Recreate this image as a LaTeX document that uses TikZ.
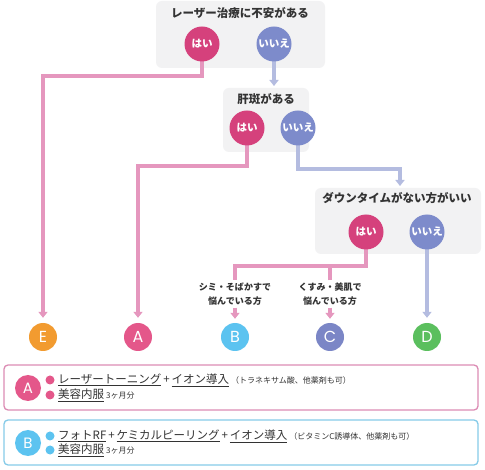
\documentclass[tikz,border=0pt]{standalone}
\usepackage{fontspec}
\setmainfont{Noto Sans CJK JP}
\newfontfamily\latinfont{Poppins}
\usetikzlibrary{arrows.meta}
\definecolor{yescol}{HTML}{D5417C}
\definecolor{nocol}{HTML}{7D8BCB}
\definecolor{pinkln}{HTML}{E597BE}
\definecolor{blueln}{HTML}{B4BCE0}
\definecolor{boxgray}{HTML}{F2F2F3}
\definecolor{txt}{HTML}{333333}
\definecolor{colE}{HTML}{F29B30}
\definecolor{colA}{HTML}{E4578A}
\definecolor{colB}{HTML}{5CC3F0}
\definecolor{colC}{HTML}{7B86C6}
\definecolor{colD}{HTML}{5BBF5E}
\definecolor{borderA}{HTML}{DC8CB4}
\definecolor{borderB}{HTML}{86CBE8}
\tikzset{
  qbox/.style={fill=boxgray, rounded corners=6pt, draw=none},
  qtitle/.style={text=txt, font=\bfseries\fontsize{11.5}{13}\selectfont, inner sep=0pt},
  yesc/.style={circle, fill=yescol, minimum size=35pt, inner sep=0pt, text=white, font=\bfseries\fontsize{10.5}{12}\selectfont},
  noc/.style={circle, fill=nocol, minimum size=35pt, inner sep=0pt, text=white, font=\bfseries\fontsize{10.5}{12}\selectfont},
  endc/.style={circle, minimum size=28pt, inner sep=0pt, text=white, font=\latinfont\fontsize{16}{18}\selectfont},
  pl/.style={draw=pinkln, line width=3.5pt},
  bl/.style={draw=blueln, line width=3.5pt},
  arr/.style={-{Triangle[width=9pt,length=6pt]}},
  lbl/.style={text=txt, font=\bfseries\fontsize{9}{14}\selectfont, align=center, inner sep=0pt},
  resbox/.style={rounded corners=4pt, line width=1.3pt, fill=white},
  bullet/.style={circle, minimum size=9pt, inner sep=0pt},
  rtext/.style={anchor=west, inner sep=0pt, text=txt, font=\fontsize{11.5}{13}\selectfont},
}
\begin{document}
\begin{tikzpicture}[x=1pt,y=-1pt]
\useasboundingbox[fill=white] (0,0) rectangle (485,470);
% question boxes
\fill[qbox] (156,1) rectangle (325,68);
\fill[qbox] (223,88) rectangle (309,152);
\fill[qbox] (315,188) rectangle (481,254);
\node[qtitle] (t1) at (240,13) {レーザー治療に不安がある};
\node[qtitle] (t2) at (266,99) {肝斑がある};
\node[qtitle] (t3) at (397,198) {ダウンタイムがない方がいい};
% end circles
\node[endc, fill=colE] (E) at (43,337) {E};
\node[endc, fill=colA] (A) at (138,337) {A};
\node[endc, fill=colB] (B) at (235,337) {B};
\node[endc, fill=colC] (C) at (330,337) {C};
\node[endc, fill=colD] (D) at (427,337) {D};
% labels
\node[lbl] (lb) at (235,294) {シミ・そばかすで\\悩んでいる方};
\node[lbl] (lc) at (330,294) {くすみ・美肌で\\悩んでいる方};
% coordinates
\coordinate (box2top) at (274,86);
\coordinate (box3top) at (400,186);
\coordinate (j1) at (0,76);
\coordinate (j2) at (0,166);
\coordinate (j3) at (0,169);
\coordinate (j4) at (0,266);
\coordinate (y1) at (202,44);
\coordinate (n1) at (274,44);
\coordinate (y2) at (247,128);
\coordinate (n2) at (298,128);
\coordinate (y3) at (366,232);
\coordinate (n3) at (427,232);
% connectors (behind circles)
\draw[pl, arr, shorten >=5pt] (y1) -- (y1 |- j1) -| (E.north);
\draw[bl, arr] (n1) -- (box2top);
\draw[pl, arr, shorten >=5pt] (y2) -- (y2 |- j2) -| (A.north);
\draw[bl, arr] (n2) -- (n2 |- j3) -| (box3top);
\draw[pl] (y3) -- (y3 |- j4) -| ([yshift=2pt]lb.north);
\draw[pl] ([yshift=2pt]lc.north) -- (lc.north |- j4);
\draw[bl, arr, shorten >=5pt] (n3) -- (D.north);
\draw[pl, arr, shorten >=4pt] ([yshift=-2pt]lb.south) -- (B.north);
\draw[pl, arr, shorten >=4pt] ([yshift=-2pt]lc.south) -- (C.north);
% answer circles
\node[yesc] (yes1) at (y1) {はい};
\node[noc] (no1) at (n1) {いいえ};
\node[yesc] (yes2) at (y2) {はい};
\node[noc] (no2) at (n2) {いいえ};
\node[yesc] (yes3) at (y3) {はい};
\node[noc] (no3) at (n3) {いいえ};
% result boxes
\draw[resbox, draw=borderA] (4,365) rectangle (478,410);
\node[endc, fill=colA, minimum size=26pt, font=\latinfont\fontsize{15}{17}\selectfont] (rA) at (28,388) {A};
\node[bullet, fill=colA] (bA1) at (50,380) {};
\node[bullet, fill=colA] (bA2) at (50,395) {};
\node[rtext] (tA1) at (58,380) {\underline{レーザートーニング}\,+\,\underline{イオン導入}\,{\fontsize{8}{10}\selectfont（トラネキサム酸、他薬剤も可）}};
\node[rtext] (tA2) at (58,395) {\underline{美容内服}\,{\fontsize{8}{10}\selectfont 3ヶ月分}};
\draw[resbox, draw=borderB] (4,420) rectangle (478,465);
\node[endc, fill=colB, minimum size=26pt, font=\latinfont\fontsize{15}{17}\selectfont] (rB) at (28,443) {B};
\node[bullet, fill=colB] (bB1) at (50,436) {};
\node[bullet, fill=colB] (bB2) at (50,450) {};
\node[rtext] (tB1) at (58,436) {\underline{フォトRF}\,+\,\underline{ケミカルピーリング}\,+\,\underline{イオン導入}\,{\fontsize{8}{10}\selectfont（ビタミンC誘導体、他薬剤も可）}};
\node[rtext] (tB2) at (58,450) {\underline{美容内服}\,{\fontsize{8}{10}\selectfont 3ヶ月分}};
\end{tikzpicture}
\end{document}
